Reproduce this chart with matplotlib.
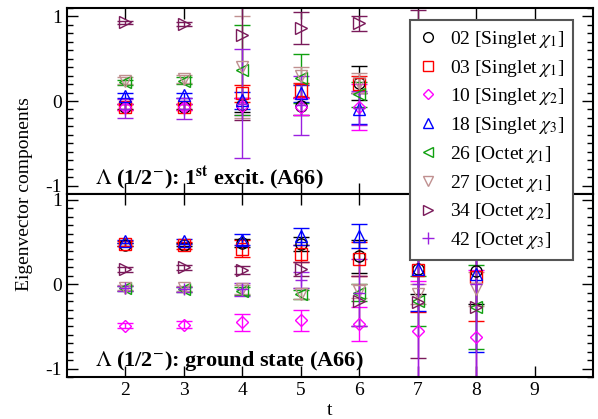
import numpy as np
import matplotlib
matplotlib.use("Agg")
import matplotlib.pyplot as plt
from matplotlib.ticker import MultipleLocator
from matplotlib.lines import Line2D

# === cfg ===
plt.rcParams['font.family'] = ['Liberation Serif', 'DejaVu Serif']
plt.rcParams['mathtext.fontset'] = 'stix'
plt.rcParams['axes.unicode_minus'] = False

# --- data ---
t = [2, 3, 4, 5, 6, 7, 8]
nan = np.nan

labels = [r'02 [Singlet $\chi_1$]', r'03 [Singlet $\chi_1$]', r'10 [Singlet $\chi_2$]',
          r'18 [Singlet $\chi_3$]', r'26 [Octet $\chi_1$]', r'27 [Octet $\chi_1$]',
          r'34 [Octet $\chi_2$]', r'42 [Octet $\chi_3$]']
markers = ['o', 's', 'D', '^', '<', 'v', '>', '+']
colors = ['black', 'red', '#ff00ff', 'blue', '#10a010', '#c09090', '#7a1a5a', '#9a20e0']
msizes = [8, 8, 6.5, 8, 8, 8, 8, 9]

# 1st excited state (top)
exc_02 = [-0.07, -0.07, -0.05, -0.06, 0.21, nan, nan]
exc_03 = [-0.07, -0.07, 0.09, 0.13, 0.20, nan, nan]
exc_10 = [-0.07, -0.07, -0.06, -0.07, -0.07, nan, nan]
exc_18 = [0.06, 0.07, 0.01, 0.09, -0.09, nan, nan]
exc_26 = [0.22, 0.24, 0.37, 0.27, 0.08, nan, nan]
exc_27 = [0.24, 0.26, 0.40, 0.30, 0.21, nan, nan]
exc_34 = [0.93, 0.91, 0.78, 0.86, 0.92, 0.50, nan]
exc_42 = [-0.09, -0.09, -0.03, -0.05, -0.08, nan, nan]

exc_err_02 = [0.03, 0.03, 0.08, 0.10, 0.20, nan, nan]
exc_err_03 = [0.04, 0.04, 0.10, 0.08, 0.10, nan, nan]
exc_err_10 = [0.04, 0.04, 0.10, 0.10, 0.27, nan, nan]
exc_err_18 = [0.03, 0.03, 0.10, 0.10, 0.18, nan, nan]
exc_err_26 = [0.03, 0.04, 0.53, 0.29, 0.15, nan, nan]
exc_err_27 = [0.04, 0.05, 0.60, 0.10, 0.12, nan, nan]
exc_err_34 = [0.02, 0.02, 1.01, 0.19, 0.09, 0.58, nan]
exc_err_42 = [0.11, 0.12, 0.64, 0.35, 0.20, nan, nan]

# ground state (bottom)
gnd_02 = [0.47, 0.47, 0.49, 0.48, 0.33, 0.18, 0.16]
gnd_03 = [0.48, 0.46, 0.42, 0.36, 0.30, 0.17, 0.09]
gnd_10 = [-0.49, -0.48, -0.45, -0.43, -0.47, -0.56, -0.63]
gnd_18 = [0.51, 0.51, 0.53, 0.57, 0.57, 0.18, 0.12]
gnd_26 = [-0.05, -0.06, -0.08, -0.12, -0.10, -0.20, -0.27]
gnd_27 = [-0.04, -0.05, -0.06, -0.11, -0.08, -0.12, -0.06]
gnd_34 = [0.18, 0.20, 0.17, 0.18, -0.20, -0.21, -0.27]
gnd_42 = [-0.05, -0.06, -0.06, 0.05, -0.10, 0.00, 0.00]

gnd_err_02 = [0.02, 0.02, 0.05, 0.08, 0.20, 0.30, 0.40]
gnd_err_03 = [0.03, 0.04, 0.10, 0.10, 0.20, 0.50, 0.53]
gnd_err_10 = [0.03, 0.04, 0.10, 0.13, 0.20, 0.60, 0.80]
gnd_err_18 = [0.02, 0.03, 0.07, 0.10, 0.14, 0.50, 0.92]
gnd_err_26 = [0.03, 0.03, 0.05, 0.05, 0.10, 0.30, 0.50]
gnd_err_27 = [0.03, 0.03, 0.05, 0.06, 0.08, 0.12, 0.20]
gnd_err_34 = [0.03, 0.03, 0.05, 0.08, 0.30, 0.66, 1.00]
gnd_err_42 = [0.03, 0.03, 0.08, 0.10, 0.40, 1.30, 1.30]

exc = [exc_02, exc_03, exc_10, exc_18, exc_26, exc_27, exc_34, exc_42]
exc_err = [exc_err_02, exc_err_03, exc_err_10, exc_err_18, exc_err_26, exc_err_27, exc_err_34, exc_err_42]
gnd = [gnd_02, gnd_03, gnd_10, gnd_18, gnd_26, gnd_27, gnd_34, gnd_42]
gnd_err = [gnd_err_02, gnd_err_03, gnd_err_10, gnd_err_18, gnd_err_26, gnd_err_27, gnd_err_34, gnd_err_42]

# --- fig ---
fig = plt.figure(figsize=(5.98, 4.19), dpi=100)
ax1 = fig.add_axes([67/598, 1 - 194/419, 526/598, 186/419])
ax2 = fig.add_axes([67/598, 1 - 377/419, 526/598, 183/419], sharex=ax1)

for ax, vals, errs in [(ax1, exc, exc_err), (ax2, gnd, gnd_err)]:
    for k in range(len(labels)):
        ax.errorbar(t, vals[k], yerr=errs[k], fmt=markers[k], color=colors[k],
                    mfc='none', mec=colors[k], ms=msizes[k], mew=1.0,
                    elinewidth=1.0, capsize=6, capthick=1.0)

# legend: markers only
handles = [Line2D([], [], ls='none', marker=markers[k], color=colors[k], mfc='none',
                  ms=msizes[k] - 1, mew=1.0, label=labels[k]) for k in range(len(labels))]

for ax in [ax1, ax2]:
    ax.set_xlim(1, 10)
    ax.set_yticks([-1, 0, 1])
    ax.yaxis.set_minor_locator(MultipleLocator(0.1))
    ax.xaxis.set_major_locator(MultipleLocator(1))
    ax.tick_params(which='both', direction='in', top=True, right=True, labelsize=14)
    ax.tick_params(which='major', length=8, width=1)
    ax.tick_params(which='minor', length=4, width=1)
    for s in ax.spines.values():
        s.set_linewidth(1.5)

ax1.set_ylim(-1.1, 1.1)
ax2.set_ylim(-1.1, 1.07)
ax2.set_xticks([2, 3, 4, 5, 6, 7, 8, 9])
ax1.tick_params(labelbottom=False)

ax1.text(0.053, 0.055, r'$\Lambda$ (1/2$^{-}$): 1$^{\mathbf{st}}$ excit. (A66)',
         transform=ax1.transAxes, fontsize=16, fontweight='bold', va='baseline')
ax2.text(0.053, 0.06, r'$\Lambda$ (1/2$^{-}$): ground state (A66)',
         transform=ax2.transAxes, fontsize=16, fontweight='bold', va='baseline')

ax2.set_xlabel('t', fontsize=14, labelpad=2)
fig.text(25/598, 1 - 194/419, 'Eigenvector components', rotation=90,
         fontsize=14, va='center', ha='center')

leg = fig.legend(handles=handles, loc='upper left',
                 bbox_to_anchor=(410/598, 1 - 20/419), bbox_transform=fig.transFigure,
                 fontsize=14, frameon=True, fancybox=False, framealpha=1,
                 edgecolor='#555555', labelspacing=0.4, handlelength=1.0,
                 handletextpad=0.6, borderpad=0.45, borderaxespad=0)
leg.get_frame().set_linewidth(1.5)

fig.savefig('out.png', dpi=100)
